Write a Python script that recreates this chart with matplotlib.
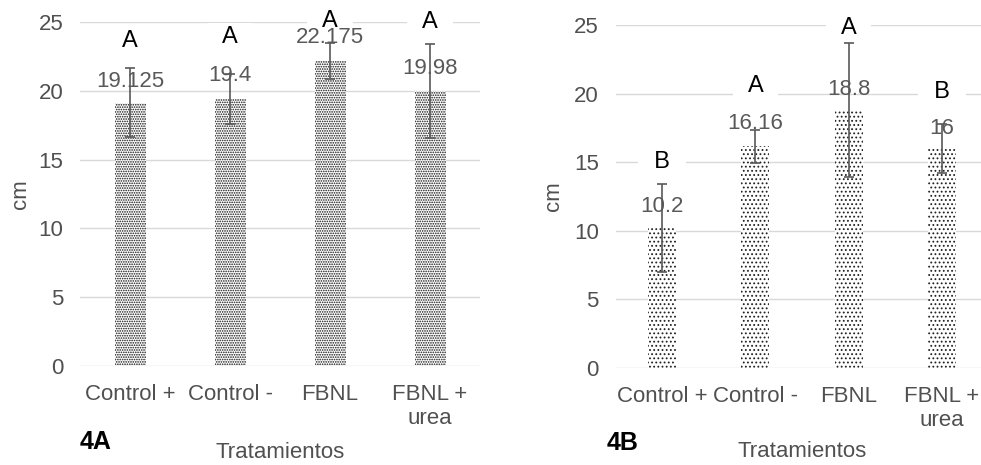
import matplotlib
matplotlib.use("Agg")
import matplotlib.pyplot as plt
import numpy as np

plt.rcParams['font.family'] = ['Liberation Sans', 'DejaVu Sans']
plt.rcParams['hatch.linewidth'] = 0.8

# datos
categorias = ['Control +', 'Control -', 'FBNL', 'FBNL +\nurea']

altura_4a = [19.125, 19.4, 22.175, 19.98]
error_4a = [2.5, 1.8, 1.3, 3.4]
letras_4a = ['A', 'A', 'A', 'A']
y_valor_4a = [20.7, 21.1, 23.9, 21.6]
y_letra_4a = [23.6, 23.9, 25.1, 25.0]

altura_4b = [10.2, 16.16, 18.8, 16]
error_4b = [3.2, 1.2, 4.9, 1.8]
letras_4b = ['B', 'A', 'A', 'B']
y_valor_4b = [11.8, 17.8, 20.3, 17.5]
y_letra_4b = [15.0, 20.6, 24.8, 20.1]

gris = '#505050'

fig = plt.figure(figsize=(9.81, 4.65), dpi=100)
ax_a = fig.add_axes([80/981, 1-366/465, 400/981, 344/465])
ax_b = fig.add_axes([615.5/981, 1-367.7/465, 373/981, 342.4/465])


def panel(ax, alturas, errores, letras, y_valor, y_letra, ancho, hatch, c_hatch, ylab_x, xlab_y):
    x = np.arange(len(categorias))
    ax.bar(x, alturas, width=ancho, color='white', edgecolor=c_hatch,
           linewidth=0, hatch=hatch, zorder=2)
    ax.errorbar(x, alturas, yerr=errores, fmt='none', ecolor='#595959',
                elinewidth=1.2, capsize=3.5, capthick=1.2, zorder=6)
    for i in range(len(x)):
        ax.text(x[i], y_valor[i], f'{alturas[i]:g}', ha='center', va='center',
                fontsize=16, color='#595959', zorder=5)
        ax.text(x[i], y_letra[i], f'  {letras[i]}  ', ha='center', va='center',
                fontsize=17, color='black', zorder=4,
                bbox=dict(facecolor='white', edgecolor='none', pad=2))
    ax.set_xlim(-0.5, len(x) - 0.5)
    ax.set_ylim(0, 25)
    ax.set_yticks(range(0, 26, 5))
    ax.set_xticks(x)
    ax.set_xticklabels(categorias)
    ax.tick_params(length=0, labelsize=16, labelcolor=gris)
    ax.tick_params(axis='y', pad=12)
    ax.tick_params(axis='x', pad=13)
    ax.grid(axis='y', color='#d9d9d9', linewidth=1, zorder=0)
    ax.set_axisbelow(True)
    for s in ax.spines.values():
        s.set_visible(False)
    ax.set_ylabel('cm', fontsize=16, color=gris, va='center')
    ax.yaxis.set_label_coords(ylab_x, 0.5)
    ax.set_xlabel('Tratamientos', fontsize=16, color=gris, va='center')
    ax.xaxis.set_label_coords(0.5, xlab_y)


panel(ax_a, altura_4a, error_4a, letras_4a, y_valor_4a, y_letra_4a, 0.31, '.......', '#111111', -0.148, -0.25)
panel(ax_b, altura_4b, error_4b, letras_4b, y_valor_4b, y_letra_4b, 0.30, '....', '#222222', -0.165, -0.246)

fig.text(80/981, 1-442/465, '4A', fontsize=18, fontweight='bold', va='center', ha='left')
fig.text(607/981, 1-443/465, '4B', fontsize=18, fontweight='bold', va='center', ha='left')

fig.savefig('out.png', dpi=100)
